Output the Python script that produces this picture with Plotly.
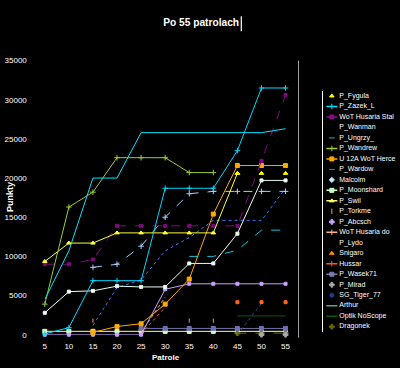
import plotly.graph_objects as go

# ---------------- data ----------------
patrols = [5, 10, 15, 20, 25, 30, 35, 40, 45, 50, 55]
x_ticks = [5, 10, 15, 20, 25, 30, 35, 40, 45, 50, 55]
y_ticks = [0, 5000, 10000, 15000, 20000, 25000, 30000, 35000]
N = None

p_fygula = [N, N, N, N, N, N, N, N, 20600, 20600, 20600]
p_zazek_l = [100, 900, 6900, 6900, 6900, 18700, 18700, 18700, 23500, 31500, 31500]
p_zazek_l_b = [4500, 10700, 20000, 20000, 25800, 25800, 25800, 25800, 25800, 25800, 26300]
wot_stal = [9000, 9000, 9600, 13900, 13900, 13900, 13900, 13900, 13900, 22200, 30600]
p_wanman = [430, 430, 430, 430, 430, 430, 430, 430, 430, 430, 430]
p_ungrzy = [N, N, N, N, N, N, 10000, 10000, 10800, 13350, 13350]
p_wandrew = [3900, 16300, 18200, 22600, 22600, 22600, 20700, 20700, N, N, N]
u12a_herce = [N, N, 300, 1050, 1400, 3900, 7100, 15400, 21600, 21600, 21600]
p_wardow = [N, N, 1200, 6000, 7000, 10700, 12400, 14600, 14600, 14600, 18700]
malcolm = [N, N, 8600, 9000, 11300, 15000, 18000, 18300, 18300, 18300, 18300]
p_moonshard = [2800, 5500, 5600, 6200, 6100, 6100, 9100, 9100, 12900, 19700, 19700]
p_swil = [9350, 11700, 11700, 13000, 13000, 13000, 13000, 13000, 20600, N, N]
p_torkme = [0, N, 1800, N, N, N, 1800, 1800, N, N, N]
p_abcsch = [0, 0, 0, 0, 0, 5800, 6500, 6500, 6500, 6500, 6500]
wot_do = [N, N, N, N, 300, 4800, N, N, N, N, N]
p_lydo = [N, N, N, N, N, N, N, N, N, N, N]
snigaro = [N, N, N, N, N, N, N, N, 4150, 4150, 4150]
hussar = [N, N, N, N, 100, 3500, N, N, N, N, N]
p_wasek71 = [N, N, N, N, 800, 800, 800, 800, 800, 800, 800]
p_mirad = [N, N, N, N, N, N, N, N, N, 0, 0]
sg_tiger_77 = [N, N, N, N, N, N, N, N, 0, 4000, N]
arthur = [N, N, N, N, N, N, N, N, N, N, N]
optik = [N, N, N, N, N, N, N, N, 2400, 2400, 2400]
dragonek = [N, N, N, N, N, N, N, N, 200, 200, 200]

legend_names = ["P_Fygula", "P_Zazek_L", "WoT Husaria Stal", "P_Wanman", "P_Ungrzy_",
                "P_Wandrew", "U 12A WoT Herce", "P_Wardow", "Malcolm", "P_Moonshard",
                "P_Swil", "P_Torkme", "P_Abcsch", "WoT Husaria do", "P_Lydo", "Snigaro",
                "Hussar", "P_Wasek71", "P_Mirad", "SG_Tiger_77", "Arthur",
                "Optik NoScope", "Dragonek"]

# ---------------- styles ----------------
# (values, colour, mode, dash, marker symbol, marker colour, marker size)
plot_series = [
    (p_wanman, "#ffff99", "lines+markers", "solid", "square", "#ccffcc", 4),
    (arthur, "#3cb38c", "lines", "solid", "circle", "#3cb38c", 3),
    (optik, "#0a5a0a", "lines", "solid", "circle", "#0a5a0a", 3),
    (dragonek, "#666600", "lines+markers", "dash", "cross", "#777700", 4),
    (p_wasek71, "#7070aa", "lines+markers", "solid", "square", "#7070aa", 4),
    (p_mirad, "#aaaaaa", "markers", "solid", "cross", "#aaaaaa", 4),
    (sg_tiger_77, "#2a4aa0", "lines", "dot", "circle", "#2a4aa0", 3),
    (hussar, "#ff5a1e", "lines", "dot", "line-ns-open", "#ff5a1e", 3),
    (wot_do, "#ffb080", "lines", "dot", "line-ns-open", "#ffb080", 3),
    (snigaro, "#ff6a10", "markers", "solid", "square", "#ff6a10", 3),
    (p_torkme, "#ff88aa", "markers", "solid", "line-ns-open", "#ff88aa", 3),
    (p_abcsch, "#c8a0ff", "lines+markers", "solid", "square", "#c8a0ff", 3),
    (p_wardow, "#3a78ff", "lines", "dot", "circle", "#3a78ff", 3),
    (malcolm, "#a8d0ff", "lines+markers", "dash", "cross-thin-open", "#a8d0ff", 4),
    (p_ungrzy, "#19c3dc", "lines", "dash", "circle", "#19c3dc", 3),
    (p_moonshard, "#e8fff4", "lines+markers", "solid", "square", "#e8fff4", 3),
    (u12a_herce, "#ffaa00", "lines+markers", "solid", "square", "#ffaa00", 4),
    (wot_stal, "#800a80", "lines+markers", "dash", "square", "#800a80", 3),
    (p_swil, "#ffff33", "lines+markers", "solid", "triangle-up", "#ffff33", 4),
    (p_fygula, "#ffff00", "markers", "solid", "triangle-up", "#ffff00", 4),
    (p_wandrew, "#9acd32", "lines+markers", "solid", "cross-thin-open", "#9acd32", 4),
    (p_zazek_l_b, "#00e5ff", "lines", "solid", "circle", "#00e5ff", 3),
    (p_zazek_l, "#00d8ff", "lines+markers", "solid", "cross-thin-open", "#00d8ff", 4),
]

# legend key appearance: (line colour or None, marker symbol or None, marker colour)
legend_keys = [
    (None, "triangle-up", "#ffff00"),
    ("#00e5ff", "line-ns-open", "#00e5ff"),
    ("#8a0a8a", "square", "#8a0a8a"),
    (None, None, None),
    (None, "line-ew-open", "#20b2c0"),
    ("#9acd32", "line-ns-open", "#9acd32"),
    ("#ffa500", "square", "#ffa500"),
    (None, "line-ew-open", "#3a78ff"),
    (None, "diamond", "#c0e8ff"),
    ("#ccffcc", "square", "#ccffcc"),
    ("#ffff66", "triangle-up", "#ffff66"),
    (None, "line-ns-open", "#ff88aa"),
    (None, "cross", "#c8a0ff"),
    ("#ffb080", "line-ns-open", "#ffb080"),
    (None, None, None),
    (None, "triangle-up", "#ff8c00"),
    ("#ff5a1e", "line-ns-open", "#ff5a1e"),
    ("#7b7bb5", "square", "#7b7bb5"),
    (None, "cross", "#aaaaaa"),
    (None, "circle", "#1e3c8c"),
    ("#3cb38c", None, None),
    ("#0a5a0a", None, None),
    (None, "cross", "#666600"),
]

W, H = 400, 368
FONT = "Liberation Sans, Arial, sans-serif"

fig = go.Figure()

for vals, col, mode, dash, sym, mcol, msz in plot_series:
    fig.add_trace(go.Scatter(
        x=patrols, y=vals, mode=mode,
        line=dict(color=col, width=1, dash=dash),
        marker=dict(symbol=sym, color=mcol, size=msz, line=dict(color=mcol, width=1)),
        connectgaps=False, cliponaxis=False, showlegend=False, hoverinfo="skip",
        xaxis="x", yaxis="y"))

# legend drawn on its own small axis
for i, (lc, sym, mc) in enumerate(legend_keys):
    if lc:
        fig.add_trace(go.Scatter(x=[3, 14], y=[i, i], mode="lines",
                                 line=dict(color=lc, width=1.5), showlegend=False,
                                 hoverinfo="skip", xaxis="x2", yaxis="y2"))
    if sym:
        fig.add_trace(go.Scatter(x=[8.5], y=[i], mode="markers",
                                 marker=dict(symbol=sym, color=mc, size=4,
                                             line=dict(color=mc, width=1)),
                                 showlegend=False, hoverinfo="skip",
                                 xaxis="x2", yaxis="y2"))
fig.add_trace(go.Scatter(x=[16] * len(legend_names), y=list(range(len(legend_names))),
                         mode="text", text=legend_names, textposition="middle right",
                         textfont=dict(color="white", size=7, family=FONT),
                         showlegend=False, hoverinfo="skip", xaxis="x2", yaxis="y2",
                         cliponaxis=False))

px_x = lambda p: p / W
px_y = lambda p: (H - p) / H

leg_top, leg_bot, first, step = 89, 336, 94.3, 10.75

fig.update_layout(
    width=W, height=H,
    margin=dict(l=0, r=0, t=0, b=0),
    paper_bgcolor="black", plot_bgcolor="black",
    font=dict(family=FONT, color="white", size=8),
    hovermode=False,
    title=dict(text="<b>Po 55 patrolach</b>", x=px_x(162), xanchor="left",
               y=px_y(19), yanchor="middle", xref="paper", yref="paper",
               font=dict(size=10.2, color="white", family=FONT)),
    xaxis=dict(domain=[px_x(43), px_x(298)], range=[5, 57.69],
               tickvals=x_ticks, ticktext=[str(v) for v in x_ticks],
               showgrid=False, zeroline=False, showline=False, ticks="",
               tickfont=dict(size=8, color="white"), ticklabelstandoff=5,
               anchor="y"),
    yaxis=dict(domain=[px_y(339), px_y(58)], range=[0, 35000],
               tickvals=y_ticks, ticktext=[str(v) for v in y_ticks],
               showgrid=False, zeroline=False, showline=False, ticks="",
               tickfont=dict(size=8, color="white"), ticklabelstandoff=17,
               anchor="x"),
    xaxis2=dict(domain=[px_x(323), 1.0], range=[0, 77], visible=False, anchor="y2"),
    yaxis2=dict(domain=[px_y(leg_bot), px_y(leg_top)],
                range=[(leg_bot - first) / step, (leg_top - first) / step],
                showline=True, linecolor="white", linewidth=1.5,
                showticklabels=False, showgrid=False, zeroline=False, ticks="",
                anchor="x2", side="left"),
    annotations=[
        dict(text="<b>Punkty</b>", x=px_x(8), y=px_y(198), xref="paper", yref="paper",
             xanchor="center", yanchor="middle",
             textangle=-90, showarrow=False, font=dict(size=9, color="white")),
        dict(text="<b>Patrole</b>", x=px_x(165), y=px_y(362), xref="paper", yref="paper",
             xanchor="center", yanchor="middle", borderpad=0,
             showarrow=False, font=dict(size=8, color="white")),
    ],
    shapes=[
        dict(type="line", xref="paper", yref="paper", x0=px_x(298), x1=px_x(298),
             y0=px_y(342), y1=px_y(58), line=dict(color="#a0a0a0", width=1)),
        dict(type="line", xref="paper", yref="paper", x0=px_x(240.5), x1=px_x(240.5),
             y0=px_y(28), y1=px_y(12.5), line=dict(color="white", width=1.2)),
    ],
)

fig.write_html("out.html", config={"displayModeBar": False, "staticPlot": True},
               post_script="document.body.style.margin='0';document.body.style.overflow='hidden';")
